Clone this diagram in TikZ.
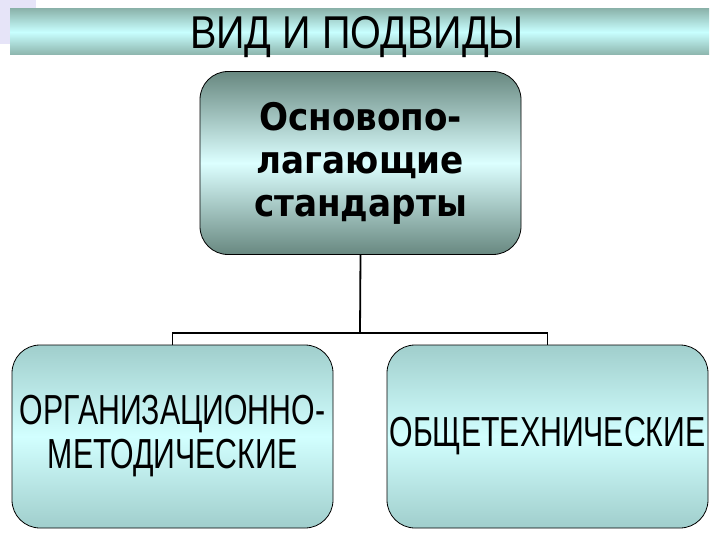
\documentclass[tikz,border=0pt]{standalone}
\usepackage{fontspec}
\setmainfont{Liberation Sans}
\newfontfamily\titlefont{Liberation Sans}[FakeStretch=0.86]
\newfontfamily\boxfont{Liberation Sans}[FakeStretch=0.72]
\newfontfamily\headfont{DejaVu Sans}[FakeStretch=0.9]
\usetikzlibrary{positioning}

\definecolor{barteal}{RGB}{140,180,172}
\definecolor{barcyan}{RGB}{200,255,255}
\definecolor{darkteal}{RGB}{104,136,128}
\definecolor{lightcyan}{RGB}{220,255,255}
\definecolor{softteal}{RGB}{160,206,204}
\definecolor{palecyan}{RGB}{210,255,255}
\definecolor{lavender}{RGB}{230,228,248}

\tikzset{
  kindbox/.style={draw=black, line width=0.8pt, rounded corners=28pt, inner sep=0pt,
    minimum width=321pt, minimum height=183pt, align=center},
  link/.style={draw=black, line width=1.8pt}
}

\begin{document}
\begin{tikzpicture}[x=1pt, y=-1pt]
	\useasboundingbox (0,0) rectangle (720,540);
	
	% slide decoration
	\fill[lavender] (0,0) rectangle (36,44);
	\fill[blue!40!black] (10,10) rectangle (13,22);
	
	% title bar
	\shade[top color=barteal, bottom color=barteal, middle color=barcyan] (10,9) rectangle (709,55);
	\node[font=\titlefont\fontsize{46}{50}\selectfont, inner sep=0pt] (title) at (357,37) {ВИД И ПОДВИДЫ};
	
	% main box
	\node[kindbox, top color=darkteal, bottom color=darkteal, middle color=lightcyan,
	  font=\headfont\bfseries\fontsize{38}{43}\selectfont] (osnov) at (360.5,163) {Основопо-\\лагающие\\стандарты};
	
	% sub boxes
	\node[kindbox, top color=softteal, bottom color=softteal, middle color=palecyan,
	  font=\boxfont\fontsize{42}{44}\selectfont] (orgmet) at (172.5,436.5) {ОРГАНИЗАЦИОННО-\\МЕТОДИЧЕСКИЕ};
	\node[kindbox, top color=softteal, bottom color=softteal, middle color=palecyan,
	  font=\boxfont\fontsize{42}{44}\selectfont] (obshtech) at (547.5,436.5) {ОБЩЕТЕХНИЧЕСКИЕ};
	
	% connectors
	\coordinate (split) at (360,333);
	\draw[link] (osnov.south) -- (split);
	\draw[link] (orgmet.north) |- (split) -| (obshtech.north);
\end{tikzpicture}
\end{document}
